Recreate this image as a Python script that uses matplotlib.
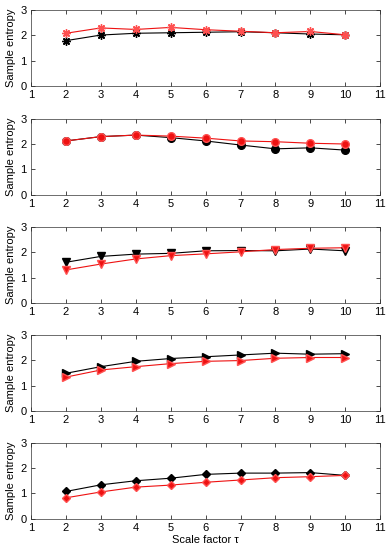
import numpy as np
import matplotlib.pyplot as plt

plt.rcParams["font.family"] = ["Liberation Sans", "DejaVu Sans"]

scale = [2, 3, 4, 5, 6, 7, 8, 9, 10]

black_star = [1.78, 2.00, 2.07, 2.09, 2.11, 2.13, 2.09, 2.04, 2.01]
red_star = [2.07, 2.28, 2.22, 2.30, 2.21, 2.15, 2.09, 2.14, 2.01]

black_circle = [2.12, 2.29, 2.35, 2.25, 2.12, 1.96, 1.81, 1.85, 1.76]
red_circle = [2.12, 2.29, 2.35, 2.31, 2.23, 2.12, 2.09, 2.03, 2.00]

black_down = [1.60, 1.83, 1.92, 1.95, 2.05, 2.06, 2.05, 2.12, 2.05]
red_down = [1.30, 1.53, 1.73, 1.86, 1.93, 2.01, 2.10, 2.15, 2.17]

black_right = [1.48, 1.74, 1.95, 2.06, 2.13, 2.20, 2.27, 2.23, 2.25]
red_right = [1.33, 1.61, 1.74, 1.86, 1.95, 1.98, 2.07, 2.10, 2.10]

black_diamond = [1.08, 1.34, 1.50, 1.60, 1.75, 1.80, 1.80, 1.82, 1.71]
red_diamond = [0.83, 1.06, 1.25, 1.33, 1.44, 1.53, 1.62, 1.66, 1.71]

# MATLAB-style '*' marker: asterisk with 8 spokes
asterisk = (8, 2, 0)

panels = [
    (black_star, red_star, asterisk, 6),
    (black_circle, red_circle, "o", 5.5),
    (black_down, red_down, "v", 5.5),
    (black_right, red_right, ">", 5.5),
    (black_diamond, red_diamond, "D", 4.5),
]

fig = plt.figure(figsize=(3.92, 5.5), dpi=100)
bottoms = [0.8436, 0.6455, 0.449, 0.2527, 0.0564]

for (blk, red, mk, ms), b in zip(panels, bottoms):
    ax = fig.add_axes([0.079, b, 0.891, 0.139])
    ax.plot(scale, blk, color="black", marker=mk, markersize=ms, linewidth=0.8,
            markeredgecolor="black", markerfacecolor="black", markeredgewidth=1)
    ax.plot(scale, red, color="#ee1111", marker=mk, markersize=ms, linewidth=0.8,
            markeredgecolor="#ff5050", markerfacecolor="#ee1111", markeredgewidth=1)
    ax.set_xlim(1, 11)
    ax.set_ylim(0, 3)
    ax.set_xticks(range(1, 12))
    ax.set_yticks([0, 1, 2, 3])
    ax.tick_params(direction="in", top=True, right=True, labelsize=8,
                   length=3, width=0.5, pad=3)
    for s in ax.spines.values():
        s.set_linewidth(0.5)
        s.set_color("#333333")
    ax.set_ylabel("Sample entropy", fontsize=8, labelpad=3)

ax.set_xlabel("Scale factor \u03c4", fontsize=8, labelpad=1)

fig.savefig("out.png", dpi=100)
